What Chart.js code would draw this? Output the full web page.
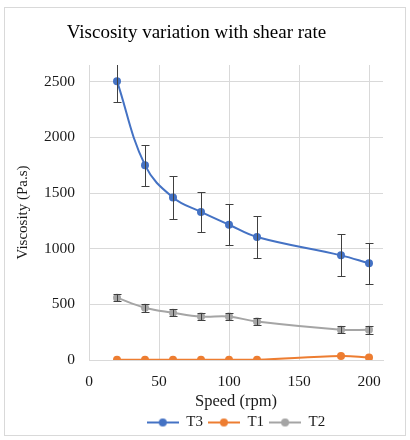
<!DOCTYPE html>
<html>
<head>
<meta charset="utf-8">
<script src="https://cdn.jsdelivr.net/npm/chart.js@4.4.1/dist/chart.umd.min.js"></script>
<style>
  html, body { margin: 0; padding: 0; background: #fff; }
  #wrap { position: relative; width: 410px; height: 440px; }
  #frame { position: absolute; left: 4px; top: 7px; width: 402px; height: 429px;
           border: 1px solid #d9d9d9; box-sizing: border-box; }
  #c { position: absolute; left: 0; top: 0; }
</style>
</head>
<body>
<div id="wrap">
  <div id="frame"></div>
  <canvas id="c" width="410" height="440"></canvas>
</div>
<script>
// --- Data ---
const speeds = [20, 40, 60, 80, 100, 120, 180, 200];
const t3 = [2505, 1750, 1460, 1330, 1215, 1105, 940, 868];
const t3Err = [190, 185, 190, 182, 183, 186, 189, 183];
const t1 = [2, 2, 2, 2, 2, 2, 36, 22];
const t2 = [560, 470, 425, 390, 390, 345, 272, 272];
const t2Err = [34, 36, 30, 32, 33, 35, 33, 35];
const seriesNames = ['T3', 'T1', 'T2'];
const seriesColors = ['#4472c4', '#ed7d31', '#a5a5a5'];
const xTickValues = [0, 50, 100, 150, 200];
const yTickValues = [0, 500, 1000, 1500, 2000, 2500];

const serif = "'Liberation Serif', 'Times New Roman', serif";
const textColor = '#1a1a1a';
const gridColor = '#d9d9d9';

const toPoints = vals => vals.map((v, i) => ({ x: speeds[i], y: v }));

// legend marker: short line with a dot in the middle
const legendMark = color => {
    const c = document.createElement('canvas');
    c.width = 32; c.height = 10;
    const g = c.getContext('2d');
    g.strokeStyle = color; g.lineWidth = 2;
    g.beginPath(); g.moveTo(0, 5); g.lineTo(32, 5); g.stroke();
    g.fillStyle = color;
    g.beginPath(); g.arc(16, 5, 4, 0, Math.PI * 2); g.fill();
    return c;
};

// error bars drawn through the chart scales
const errorBars = {
    id: 'errorBars',
    afterDatasetsDraw(chart) {
        const { ctx, chartArea, scales: { x, y } } = chart;
        ctx.save();
        ctx.beginPath();
        ctx.rect(chartArea.left, chartArea.top, chartArea.right - chartArea.left, chartArea.bottom - chartArea.top);
        ctx.clip();
        ctx.strokeStyle = '#404040';
        ctx.lineWidth = 1;
        chart.data.datasets.forEach(ds => {
            if (!ds.errors) return;
            ds.data.forEach((p, i) => {
                const px = Math.round(x.getPixelForValue(p.x)) + 0.5;
                const top = Math.round(y.getPixelForValue(p.y + ds.errors[i])) + 0.5;
                const bot = Math.round(y.getPixelForValue(p.y - ds.errors[i])) + 0.5;
                ctx.beginPath();
                ctx.moveTo(px, top); ctx.lineTo(px, bot);
                ctx.moveTo(px - 4, top); ctx.lineTo(px + 4, top);
                ctx.moveTo(px - 4, bot); ctx.lineTo(px + 4, bot);
                ctx.stroke();
            });
        });
        ctx.restore();
    }
};

const seriesValues = [t3, t1, t2];
const seriesErrors = [t3Err, null, t2Err];

const datasets = seriesNames.map((name, k) => ({
    label: name,
    data: toPoints(seriesValues[k]),
    errors: seriesErrors[k],
    borderColor: seriesColors[k],
    backgroundColor: seriesColors[k],
    borderWidth: 2,
    pointRadius: 4,
    pointBorderWidth: 0,
    tension: 0.4,
    pointStyle: 'circle'
}));

new Chart(document.getElementById('c').getContext('2d'), {
    type: 'line',
    data: { datasets },
    plugins: [errorBars],
    options: {
        responsive: false,
        animation: false,
        layout: { padding: { left: 10, right: 27, top: 0, bottom: 0 } },
        plugins: {
            tooltip: { enabled: false },
            title: {
                display: true,
                text: 'Viscosity variation with shear rate',
                color: '#000',
                font: { family: serif, size: 19, weight: 'normal' },
                padding: { top: 21.6, bottom: 20.6 }
            },
            legend: {
                position: 'bottom',
                fullSize: false,
                labels: {
                    color: textColor,
                    font: { family: serif, size: 15 },
                    usePointStyle: true,
                    pointStyleWidth: 32,
                    boxHeight: 10,
                    padding: 5,
                    generateLabels: chart => chart.data.datasets.map((ds, i) => ({
                        text: ds.label,
                        pointStyle: legendMark(ds.borderColor),
                        fillStyle: ds.borderColor,
                        strokeStyle: ds.borderColor,
                        lineWidth: 0,
                        fontColor: textColor,
                        datasetIndex: i
                    }))
                }
            }
        },
        scales: {
            x: {
                type: 'linear',
                min: 0, max: 210,
                afterBuildTicks: s => { s.ticks = xTickValues.map(v => ({ value: v })); },
                afterFit: s => { s.height = 50; },
                ticks: { color: textColor, padding: 13, font: { family: serif, size: 15.5 },
                         callback: v => String(v) },
                grid: { color: gridColor, drawTicks: false },
                border: { color: gridColor },
                title: {
                    display: true, text: 'Speed (rpm)', color: textColor,
                    font: { family: serif, size: 16.5 }, padding: { top: 0, bottom: -2 }
                }
            },
            y: {
                min: 0, max: 2650,
                afterBuildTicks: s => { s.ticks = yTickValues.map(v => ({ value: v })); },
                afterFit: s => { s.width = 79; },
                ticks: { color: textColor, padding: 14, font: { family: serif, size: 15.5 },
                         callback: v => String(v) },
                grid: { color: gridColor, drawTicks: false },
                border: { color: gridColor },
                title: {
                    display: true, text: 'Viscosity (Pa.s)', color: textColor,
                    font: { family: serif, size: 15 }, padding: { top: 4, bottom: 0 }
                }
            }
        }
    }
});
</script>
</body>
</html>
